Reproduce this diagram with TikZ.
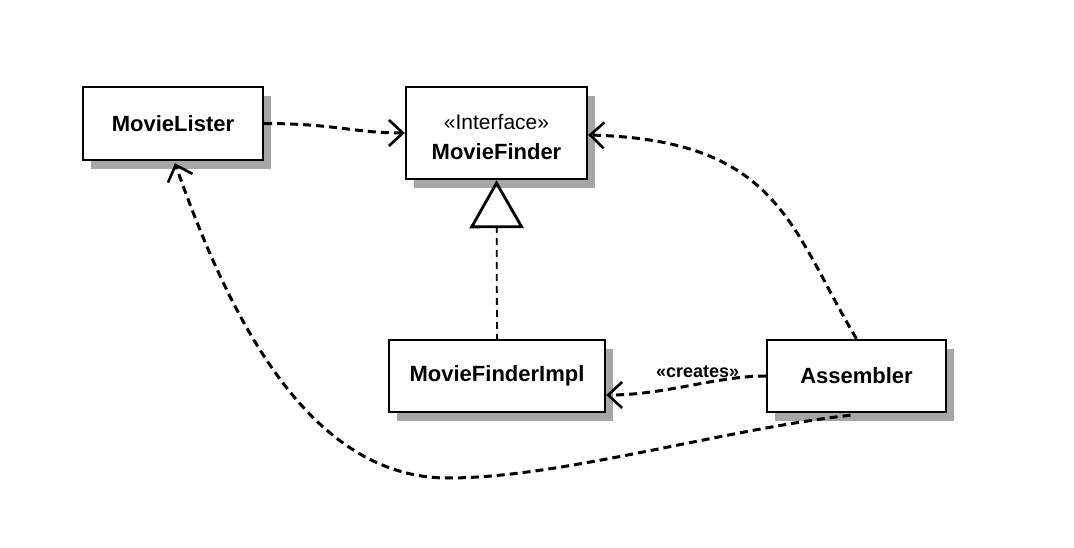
\documentclass[tikz,border=0pt]{standalone}
\usepackage{fontspec}
\setmainfont{Liberation Sans}
\usetikzlibrary{arrows.meta,shadows}
\tikzset{
  cls/.style={draw=black, line width=2.4pt, fill=white, font=\fontsize{22}{24}\selectfont\bfseries,
    drop shadow={shadow xshift=8pt, shadow yshift=-9pt, fill=gray!70, opacity=1}, inner sep=0pt},
  dep/.style={line width=3pt, dash pattern=on 8pt off 5pt,
    -{Straight Barb[length=14pt,width=26pt,line width=2.6pt]}},
  realize/.style={line width=1.8pt, dash pattern=on 7pt off 5pt,
    -{Triangle[open,length=48pt,width=54pt,line width=2.8pt]}},
  lbl/.style={font=\fontsize{18}{18}\selectfont\bfseries, inner sep=1pt}
}
\begin{document}
\begin{tikzpicture}[x=1pt,y=-1pt]
\useasboundingbox (0,0) rectangle (1074,548);
\fill[white] (0,0) rectangle (1074,548);
\node[cls, minimum width=180pt, minimum height=73pt] (lister) at (173,123.5) {MovieLister};
\node[cls, minimum width=181pt, minimum height=92pt, align=center] (finder) at (496.5,133)
  {\rule{0pt}{23pt}{\fontsize{21}{24}\selectfont\mdseries «Interface»}\\[6pt]MovieFinder};
\node[cls, minimum width=216pt, minimum height=72pt] (impl) at (497,376) {MovieFinderImpl};
\node[cls, minimum width=179pt, minimum height=72pt] (asm) at (856.5,376) {Assembler};

\draw[dep] (lister.east) .. controls +(70,0) and +(-50,0) .. (finder.west);
\draw[dep] (asm.north) .. controls +(-66,-110) and (780,140) .. ([yshift=-2pt]finder.east);
\draw[realize] ([yshift=-2pt]impl.north) -- (finder.south);
\draw[dep] (asm.west) .. controls +(-50,0) and +(60,0) .. ([yshift=-19pt]impl.east)
  node[lbl, pos=0.45, above=4pt] (cr) {«creates»};
\coordinate (bot) at (448,478);
\draw[dep] ([xshift=-6pt,yshift=-2pt]asm.south) .. controls (720,430) and (560,478) .. (bot)
  .. controls (310,478) and (230,320) .. ([xshift=2pt,yshift=-2pt]lister.south);
\end{tikzpicture}
\end{document}
